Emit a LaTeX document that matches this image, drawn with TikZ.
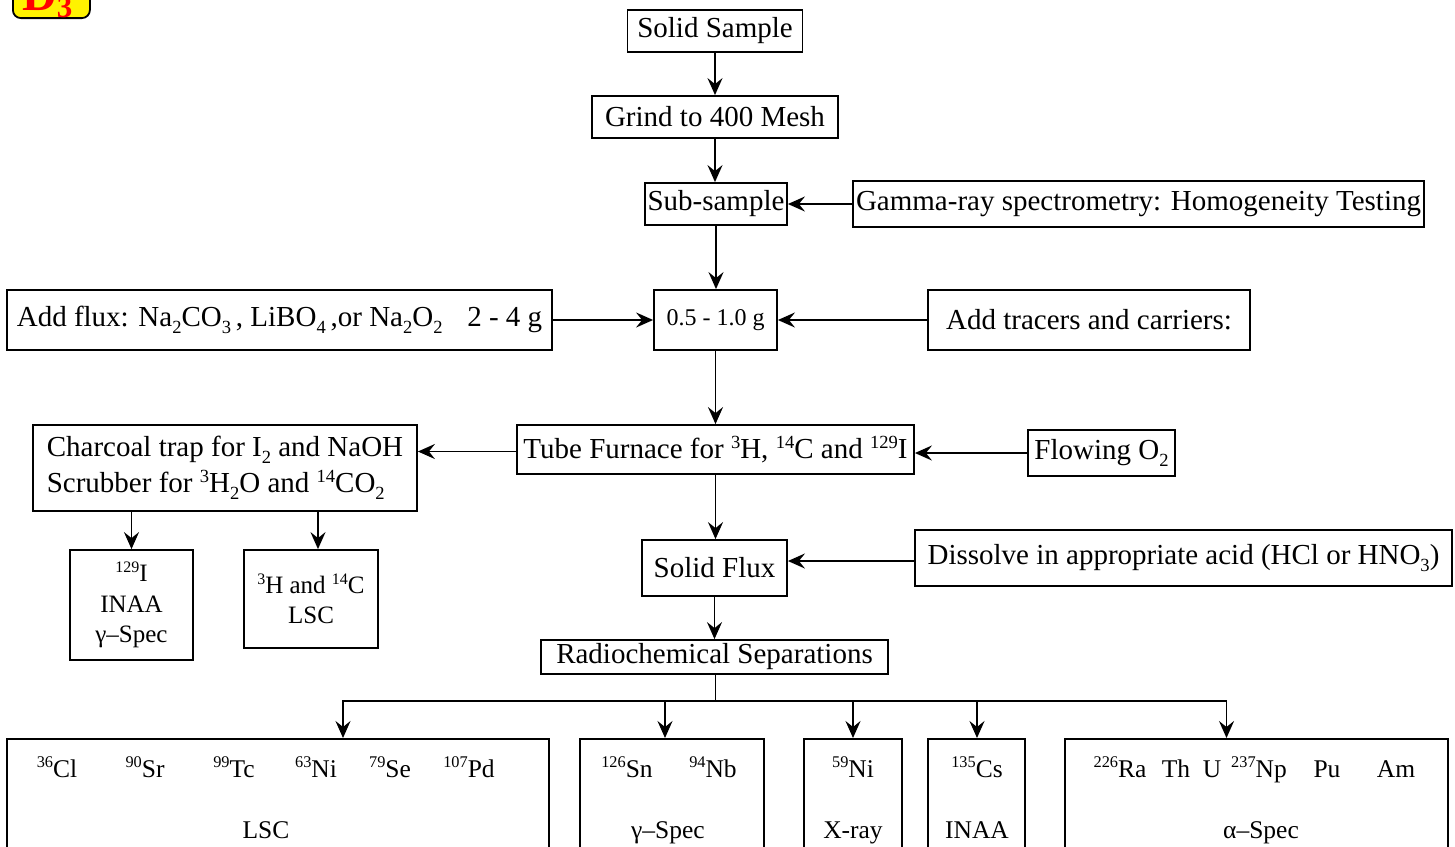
\documentclass[tikz,border=0pt]{standalone}
\usepackage{fontspec}
\setmainfont{Liberation Serif}
\usetikzlibrary{arrows.meta,calc}
\makeatletter
% raised / lowered small figures for isotopes and formulas
\newcommand{\up}[1]{\raisebox{0.36em}{\fontsize{\strip@pt\dimexpr0.64\dimexpr\f@size pt\relax\relax}{0}\selectfont #1}}
\newcommand{\dn}[1]{\raisebox{-0.24em}{\fontsize{\strip@pt\dimexpr0.64\dimexpr\f@size pt\relax\relax}{0}\selectfont #1}}
\makeatother
\tikzset{
  box/.style={draw, line width=1.8pt, inner sep=0pt, font=\fontsize{29}{34}\selectfont},
  smallbox/.style={box, font=\fontsize{25}{30.5}\selectfont, align=center},
  tallbox/.style={draw, line width=1.8pt, inner sep=0pt, anchor=north, minimum height=140pt},
  lbl/.style={inner sep=0pt, anchor=base, font=\fontsize{25.5}{30}\selectfont},
  arr/.style={line width=1.8pt, -{Stealth[length=17pt,width=15pt,inset=6pt]}},
  wire/.style={line width=1.8pt},
}
\begin{document}
\begin{tikzpicture}[x=1pt,y=-1pt]
\path[use as bounding box] (0,0) rectangle (1455,846);
\clip (0,0) rectangle (1455,846);

% badge
\node[draw, line width=1.8pt, fill=yellow, rounded corners=8pt, minimum width=77pt, minimum height=40pt, anchor=south west] (badge) at (12,19) {};
\node[anchor=base west, inner sep=0pt, text=red, font=\fontsize{48}{48}\selectfont\bfseries] (badgetext) at (22,10) {D\raisebox{-7pt}{\fontsize{31}{31}\selectfont 3}};

% main column
\node[box, minimum width=175pt, minimum height=42pt] (solid) at (715,31) {Solid Sample};
\node[box, minimum width=246pt, minimum height=42pt] (grind) at (715,117) {Grind to 400 Mesh};
\node[box, minimum width=142pt, minimum height=42pt] (sub) at (716,204) {Sub-sample};
\node[box, minimum width=571pt, minimum height=46pt] (gamma) at (1138.5,204) {Gamma-ray spectrometry: Homogeneity Testing};
\node[box, minimum width=545pt, minimum height=60pt] (flux) at (279.5,320) {Add flux: Na\dn{2}CO\dn{3}\,, LiBO\dn{4}\,,or Na\dn{2}O\dn{2}\hspace{0.6em} 2 - 4 g};
\node[box, minimum width=123pt, minimum height=60pt, font=\fontsize{24}{28}\selectfont] (mass) at (715.5,320) {0.5 - 1.0 g};
\node[box, minimum width=322pt, minimum height=60pt] (tracer) at (1089,320) {Add tracers and carriers:};
\node[box, minimum width=397pt, minimum height=49pt] (tube) at (715.5,449.5) {Tube Furnace for \up{3}H, \up{14}C and \up{129}I};
\node[box, minimum width=384pt, minimum height=86pt, align=left, font=\fontsize{29}{36}\selectfont] (charcoal) at (225,468) {Charcoal trap for I\dn{2} and NaOH\\Scrubber for \up{3}H\dn{2}O and \up{14}CO\dn{2}};
\node[box, minimum width=147pt, minimum height=46pt] (flow) at (1101.5,453) {Flowing O\dn{2}};
\node[smallbox, minimum width=123pt, minimum height=110pt] (iodine) at (131.5,605) {\up{129}I\\INAA\\γ–Spec};
\node[smallbox, minimum width=134pt, minimum height=98pt] (htc) at (311,599) {\up{3}H and \up{14}C\\LSC};
\node[box, minimum width=145pt, minimum height=56pt] (sflux) at (714.5,568) {Solid Flux};
\node[box, minimum width=537pt, minimum height=56pt] (dissolve) at (1183.5,558) {Dissolve in appropriate acid (HCl or HNO\dn{3})};
\node[box, minimum width=347pt, minimum height=34pt] (rad) at (714.5,657) {Radiochemical Separations};

% measurement boxes
\node[tallbox, minimum width=542pt] (lsc) at (278,738) {};
\node[tallbox, minimum width=184pt] (gspec) at (672,738) {};
\node[tallbox, minimum width=98pt] (xray) at (853,738) {};
\node[tallbox, minimum width=97pt] (inaa) at (976.5,738) {};
\node[tallbox, minimum width=383pt] (aspec) at (1256.5,738) {};

% labels in the measurement boxes
\node[lbl] (cl) at (57,777) {\up{36}Cl};
\node[lbl] (sr) at (145,777) {\up{90}Sr};
\node[lbl] (tc) at (234,777) {\up{99}Tc};
\node[lbl] (ni63) at (316,777) {\up{63}Ni};
\node[lbl] (se) at (390,777) {\up{79}Se};
\node[lbl] (pd) at (469,777) {\up{107}Pd};
\node[lbl] (lsclbl) at (266,838) {LSC};
\node[lbl] (sn) at (627,777) {\up{126}Sn};
\node[lbl] (nb) at (713,777) {\up{94}Nb};
\node[lbl] (glbl) at (668,838) {γ–Spec};
\node[lbl] (ni59) at (853,777) {\up{59}Ni};
\node[lbl] (xlbl) at (853,838) {X-ray};
\node[lbl] (cs) at (977,777) {\up{135}Cs};
\node[lbl] (ilbl) at (977,838) {INAA};
\node[lbl] (ra) at (1120,777) {\up{226}Ra};
\node[lbl] (th) at (1176,777) {Th};
\node[lbl] (u) at (1212,777) {U};
\node[lbl] (np) at (1259,777) {\up{237}Np};
\node[lbl] (pu) at (1327,777) {Pu};
\node[lbl] (am) at (1396,777) {Am};
\node[lbl] (albl) at (1261,838) {α–Spec};

% connectors
\draw[arr] (solid.south) -- (solid.south |- grind.north);
\draw[arr] (grind.south) -- (grind.south |- sub.north);
\draw[arr] (gamma.west) -- (sub.east);
\draw[arr] (sub.south) -- (sub.south |- mass.north);
\draw[arr] (flux.east) -- (mass.west);
\draw[arr] (tracer.west) -- (mass.east);
\draw[arr] (mass.south) -- (mass.south |- tube.north);
\draw[arr] ($(tube.west)+(0,2)$) -- ($(tube.west -| charcoal.east)+(0,2)$);
\draw[arr] (flow.west) -- (flow.west -| tube.east);
\draw[arr] (iodine.north |- charcoal.south) -- (iodine.north);
\draw[arr] ($(htc.north |- charcoal.south)+(7,0)$) -- ($(htc.north)+(7,0)$);
\draw[arr] (tube.south) -- (tube.south |- sflux.north);
\draw[arr] ($(dissolve.west)+(0,3)$) -- ($(dissolve.west -| sflux.east)+(0,3)$);
\draw[arr] (sflux.south) -- (sflux.south |- rad.north);

% distribution bus
\coordinate (bus) at ($(rad.south)+(1,26)$);
\draw[wire] ($(rad.south)+(1,0)$) -- (bus);
\draw[arr] (bus) -| ($(lsc.north)+(65,0)$);
\draw[arr] (bus) -| ($(gspec.north)+(-7,0)$);
\draw[arr] (bus) -| (xray.north);
\draw[arr] (bus) -| ($(inaa.north)+(0.5,0)$);
\draw[arr] (bus) -| ($(aspec.north)+(-30,0)$);
\end{tikzpicture}
\end{document}
